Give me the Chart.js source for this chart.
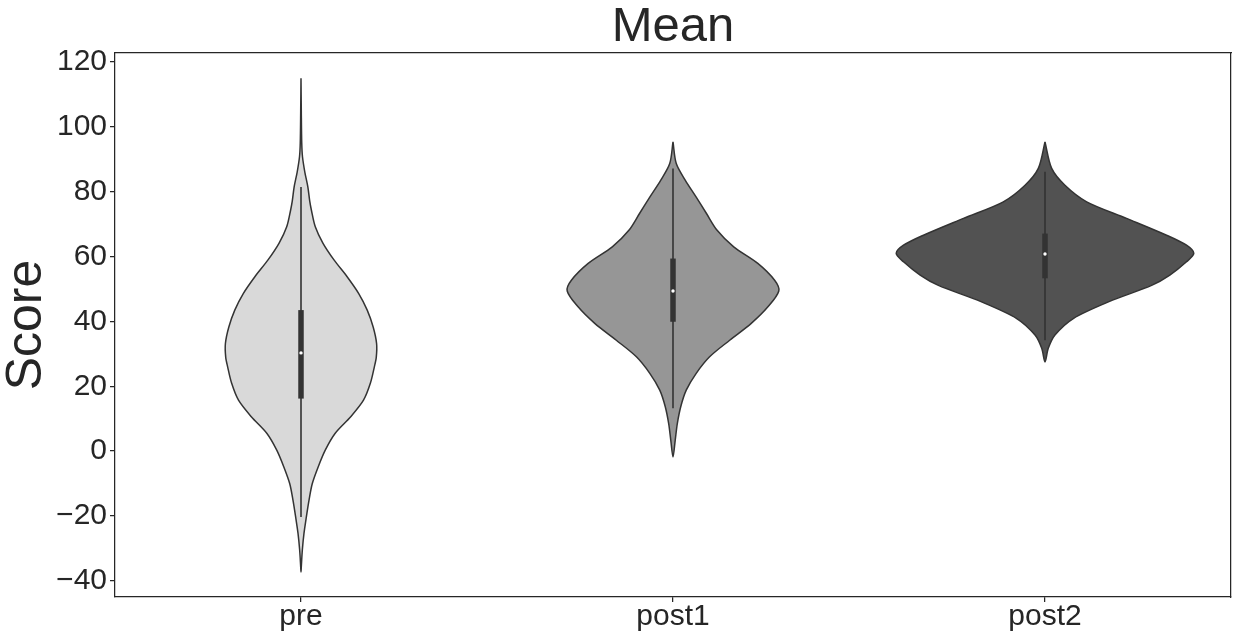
<!DOCTYPE html>
<html>
<head>
<meta charset="utf-8">
<script src="https://cdn.jsdelivr.net/npm/chart.js@4/dist/chart.umd.min.js"></script>
<style>
  html, body { margin: 0; padding: 0; background: #ffffff; }
  #wrap { width: 1238px; height: 639px; position: relative; }
</style>
</head>
<body>
<div id="wrap"><canvas id="c"></canvas></div>
<script>
// ---------- data ----------
const categories = ['pre', 'post1', 'post2'];
const yTicks = [-40, -20, 0, 20, 40, 60, 80, 100, 120];

// kernel-density outline: score levels (top -> bottom) and relative density (max = 100)
const preScores  = [115, 105, 95, 90.8, 86, 81.5, 77, 74.3, 69.2, 64.1, 58.9, 53.8, 48.6, 43.5, 38.3, 33.2, 29, 26, 20.9, 15.7, 10.6, 5.5, 0.3, -4.8, -10, -15.1, -20.3, -25.4, -30.5, -35.7, -37.3];
const preDensity = [0, 0.2, 0.5, 1.0, 2.6, 4.6, 5.9, 7.0, 9.6, 14.8, 22.3, 31.0, 38.8, 44.5, 48.5, 50.8, 50.6, 49.3, 46.6, 42.0, 33.4, 23.0, 16.3, 11.6, 7.6, 5.4, 3.6, 2.0, 0.9, 0.2, 0];

const post1Scores  = [95.4, 88.7, 83.6, 78.4, 73.3, 68.2, 63.0, 57.9, 52.7, 49.4, 44.5, 39.4, 34.2, 29.1, 24.0, 18.8, 13.7, 8.5, 3.4, -1.8];
const post1Density = [0, 2.2, 8.2, 15.5, 22.5, 29.5, 40.8, 57.0, 68.3, 71.1, 63.8, 52.6, 38.1, 24.6, 15.6, 8.9, 5.2, 2.9, 1.5, 0];

const post2Scores  = [95.4, 87.2, 82.0, 76.9, 71.8, 66.6, 63.5, 61.0, 58.4, 54.3, 51.2, 46.1, 40.9, 35.8, 31.7, 27.5];
const post2Density = [0, 4.5, 13.4, 28.0, 54.8, 81.7, 95.1, 100, 95.1, 83.9, 72.0, 43.0, 19.0, 6.7, 2.2, 0];

// inner box: whisker low, q1, median, q3, whisker high
const whiskerLow  = [-20.3, 13.2, 34.2];
const q1          = [16.2, 39.9, 53.3];
const medians     = [30.3, 49.4, 60.8];
const q3          = [43.5, 59.4, 67.1];
const whiskerHigh = [81.5, 87.2, 86.2];

// ---------- styling ----------
const fills = ['#d9d9d9', '#969696', '#525252'];
const edge = '#333333';
const textColor = '#262626';
const FONT = "'Liberation Sans', Arial, Helvetica, sans-serif";
const VIOLIN_HALF = 0.4;

const profiles = [
  [preScores, preDensity],
  [post1Scores, post1Density],
  [post2Scores, post2Density]
];
const maxDensity = Math.max(...profiles.map(p => Math.max(...p[1])));

function outline(i, scores, dens) {
  const w = d => d / maxDensity * VIOLIN_HALF;
  const right = scores.map((s, k) => ({ x: i + w(dens[k]), y: s }));
  const left = [];
  for (let k = scores.length - 2; k >= 0; k--) left.push({ x: i - w(dens[k]), y: scores[k] });
  return right.concat(left);
}

const datasets = [];
profiles.forEach((p, i) => {
  datasets.push({
    label: categories[i] + ' violin',
    data: outline(i, p[0], p[1]),
    showLine: true,
    fill: 'shape',
    backgroundColor: fills[i],
    borderColor: edge,
    borderWidth: 1.5,
    borderJoinStyle: 'round',
    pointRadius: 0,
    tension: 0.3,
    order: 3
  });
  datasets.push({
    label: categories[i] + ' whisker',
    data: [{ x: i, y: whiskerLow[i] }, { x: i, y: whiskerHigh[i] }],
    showLine: true,
    borderColor: edge,
    borderWidth: 1.6,
    pointRadius: 0,
    order: 2
  });
  datasets.push({
    label: categories[i] + ' box',
    data: [{ x: i, y: q1[i] }, { x: i, y: q3[i] }],
    showLine: true,
    borderColor: edge,
    borderWidth: 5.5,
    borderCapStyle: 'butt',
    pointRadius: 0,
    order: 1
  });
  datasets.push({
    label: categories[i] + ' median',
    data: [{ x: i, y: medians[i] }],
    showLine: false,
    pointRadius: 1.7,
    pointBackgroundColor: '#ffffff',
    pointBorderWidth: 0,
    order: 0
  });
});

new Chart(document.getElementById('c'), {
  type: 'scatter',
  data: { datasets },
  options: {
    responsive: true,
    maintainAspectRatio: false,
    animation: false,
    layout: { padding: { left: 0, right: 7, top: 0, bottom: 0 } },
    plugins: {
      legend: { display: false },
      tooltip: { enabled: false },
      title: {
        display: true,
        fullSize: false,
        text: 'Mean',
        color: textColor,
        font: { family: FONT, size: 49, weight: 'normal', lineHeight: 1 },
        padding: { top: 3, bottom: 1 }
      }
    },
    scales: {
      x: {
        type: 'linear',
        position: 'bottom',
        min: -0.5,
        max: 2.5,
        afterBuildTicks: s => { s.ticks = categories.map((c, i) => ({ value: i })); },
        afterFit: s => { s.height = 42; },
        ticks: {
          color: textColor,
          font: { family: FONT, size: 30, lineHeight: 1 },
          padding: 0,
          maxRotation: 0,
          autoSkip: false,
          callback: v => categories[v]
        },
        grid: { display: true, drawOnChartArea: false, drawTicks: true, tickLength: 5, color: textColor, lineWidth: 1.25 },
        border: { display: true, color: textColor, width: 1.25 }
      },
      y: {
        type: 'linear',
        position: 'left',
        min: -45,
        max: 122.8,
        afterBuildTicks: s => { s.ticks = yTicks.map(v => ({ value: v })); },
        afterFit: s => { s.width = 115; },
        ticks: {
          color: textColor,
          font: { family: FONT, size: 30, lineHeight: 1 },
          padding: 3,
          autoSkip: false,
          callback: v => (v < 0 ? '\u2212' + Math.abs(v) : String(v))
        },
        title: {
          display: true,
          text: 'Score',
          color: textColor,
          font: { family: FONT, size: 50, weight: 'normal', lineHeight: 1 },
          padding: { top: 2, bottom: 0 }
        },
        grid: { display: true, drawOnChartArea: false, drawTicks: true, tickLength: 5, color: textColor, lineWidth: 1.25 },
        border: { display: true, color: textColor, width: 1.25 }
      },
      xTop: {
        type: 'linear',
        position: 'top',
        min: 0, max: 1,
        afterFit: s => { s.height = 0; },
        ticks: { display: false },
        grid: { display: false, drawTicks: false },
        border: { display: true, color: textColor, width: 1.25 }
      },
      yRight: {
        type: 'linear',
        position: 'right',
        min: 0, max: 1,
        afterFit: s => { s.width = 0; },
        ticks: { display: false },
        grid: { display: false, drawTicks: false },
        border: { display: true, color: textColor, width: 1.25 }
      }
    }
  }
});
</script>
</body>
</html>
